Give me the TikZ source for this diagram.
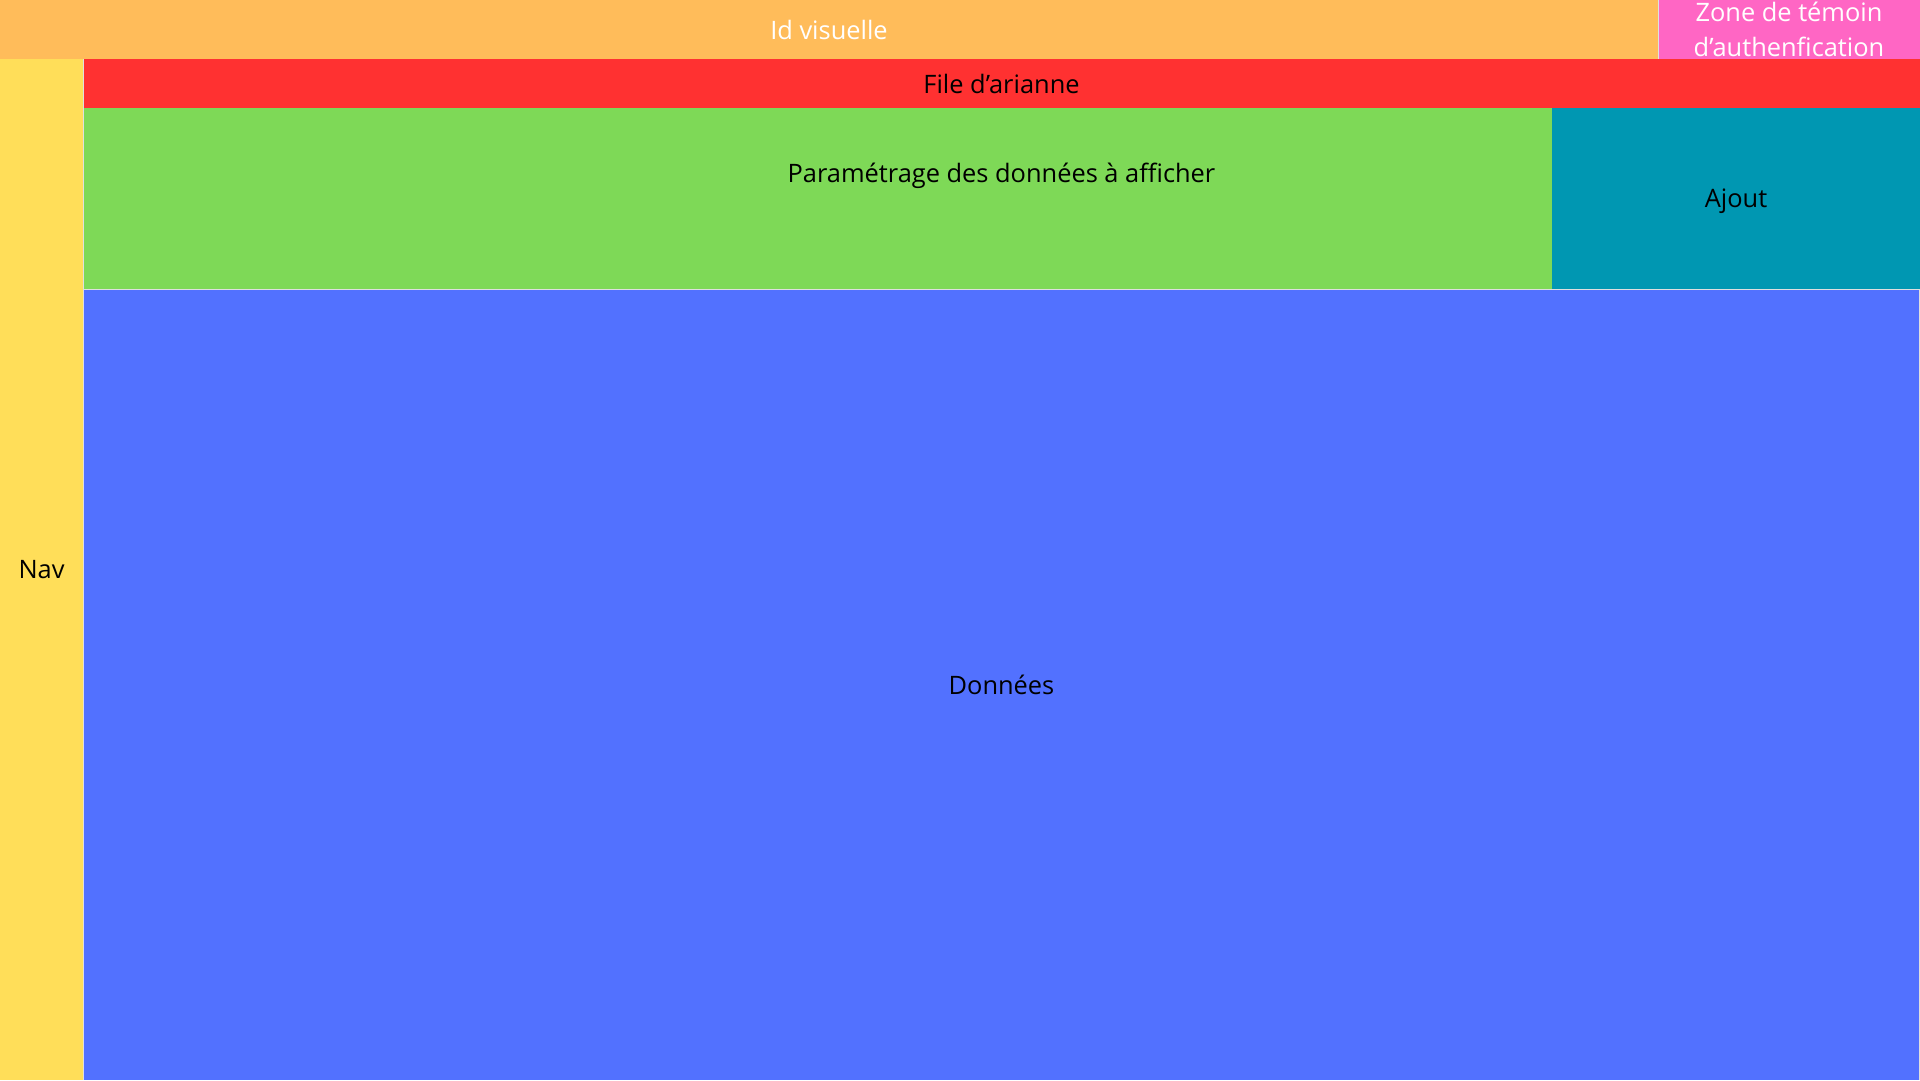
\documentclass[tikz,border=0pt]{standalone}
\usepackage{fontspec}
\setmainfont{Open Sans}
\definecolor{idorange}{HTML}{FFBC5A}
\definecolor{authpink}{HTML}{FF66C4}
\definecolor{filered}{HTML}{FF3131}
\definecolor{navyellow}{HTML}{FFDE59}
\definecolor{paramgreen}{HTML}{7ED957}
\definecolor{ajoutteal}{HTML}{0097B2}
\definecolor{datablue}{HTML}{5271FF}
\usetikzlibrary{positioning}

\begin{document}
\begin{tikzpicture}[x=1pt, y=-1pt,
        zone/.style={rectangle, inner sep=0pt, outer sep=0pt, align=center,
                     font=\fontsize{25.4}{35}\selectfont},
        sep/.style={draw=white!75!gray, line width=0.8pt}
      ]
        \useasboundingbox (0,0) rectangle (1920,1080);
        % Bandeau du haut
        \node[zone, fill=idorange, text=white, minimum width=1658pt, minimum height=59pt]
          (idvis) at (829,29.5) {Id visuelle};
        \node[zone, fill=authpink, text=white, minimum width=262pt, minimum height=59pt]
          (auth) at (1789,29.5) {Zone de témoin\\d’authenfication};
        % Fil d'ariane
        \node[zone, fill=filered, minimum width=1837pt, minimum height=49pt]
          (ariane) at (1001.5,83.5) {File d’arianne};
        % Navigation
        \node[zone, fill=navyellow, minimum width=83pt, minimum height=1021pt]
          (nav) at (41.5,569.5) {Nav};
        % Parametrage et ajout
        \fill[paramgreen] (83,108) rectangle (1552,289);
        \node[zone] (param) at (1001.5,176) {Paramétrage des données à afficher};
        \node[zone, fill=ajoutteal, minimum width=368pt, minimum height=181pt,
              text depth=0pt] (ajout) at (1736,198.5) {Ajout};
        % Donnees
        \node[zone, fill=datablue, minimum width=1836pt, minimum height=790pt]
          (donnees) at (1001.5,684.5) {Données};
        % Liserés
        \draw[sep] (auth.north west) -- (auth.south west |- idvis.south);
        \draw[sep] (nav.north east) -- (nav.south east);
        \draw[sep] (donnees.north west) -- (donnees.north east) -- (donnees.south east);
      \end{tikzpicture}
\end{document}
